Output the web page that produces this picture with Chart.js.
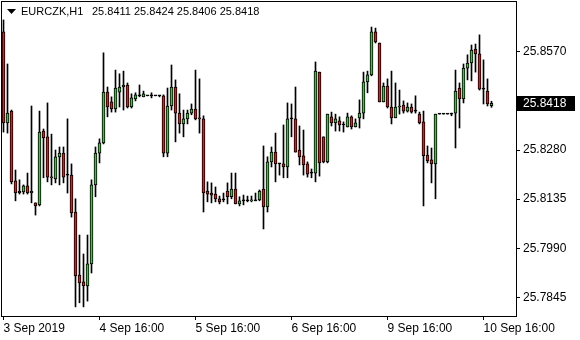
<!DOCTYPE html>
<html>
<head>
<meta charset="utf-8">
<script src="https://cdn.jsdelivr.net/npm/chart.js@4"></script>
<style>
html,body{margin:0;padding:0;background:#fff}
#grafico{display:block}
</style>
</head>
<body>
<canvas id="grafico" width="580" height="340"></canvas>
<script>
// EURCZK H1 candles
let symbol = "EURCZK,H1"
let lastPrice = 25.8418

let opens = [25.8629,25.8360,25.8395,25.8189,25.8159,25.8156,25.8174,25.8153,25.8124,25.8118,
25.8336,25.8319,25.8200,25.8195,25.8260,25.8271,25.8206,25.8206,25.8097,25.7911,
25.7891,25.7879,25.7944,25.8177,25.8271,25.8301,25.8451,25.8422,25.8401,25.8451,
25.8466,25.8472,25.8407,25.8431,25.8440,25.8437,25.8440,25.8440,25.8440,25.8440,
25.8440,25.8271,25.8410,25.8466,25.8389,25.8357,25.8372,25.8389,25.8401,25.8375,
25.8372,25.8159,25.8153,25.8150,25.8136,25.8133,25.8159,25.8142,25.8165,25.8121,
25.8130,25.8130,25.8130,25.8130,25.8133,25.8165,25.8112,25.8245,25.8274,25.8239,
25.8239,25.8230,25.8372,25.8372,25.8280,25.8263,25.8239,25.8212,25.8212,25.8510,
25.8319,25.8245,25.8378,25.8360,25.8366,25.8354,25.8348,25.8378,25.8348,25.8375,
25.8389,25.8481,25.8502,25.8629,25.8596,25.8422,25.8469,25.8407,25.8375,25.8407,
25.8413,25.8395,25.8407,25.8395,25.8386,25.8363,25.8265,25.8251,25.8239,25.8386,
25.8386,25.8386,25.8386,25.8389,25.8463,25.8431,25.8522,25.8537,25.8578,25.8564,
25.8460,25.8454,25.8411]

let highs = [25.8664,25.8534,25.8398,25.8221,25.8192,25.8177,25.8212,25.8410,25.8124,25.8395,
25.8342,25.8419,25.8327,25.8280,25.8289,25.8289,25.8372,25.8239,25.8136,25.8029,
25.7973,25.8029,25.8192,25.8289,25.8313,25.8567,25.8466,25.8437,25.8516,25.8505,
25.8513,25.8478,25.8446,25.8449,25.8472,25.8454,25.8440,25.8449,25.8440,25.8440,
25.8443,25.8463,25.8531,25.8487,25.8446,25.8398,25.8398,25.8416,25.8516,25.8490,
25.8381,25.8186,25.8183,25.8171,25.8144,25.8153,25.8183,25.8212,25.8212,25.8142,
25.8147,25.8144,25.8144,25.8153,25.8162,25.8292,25.8260,25.8289,25.8330,25.8239,
25.8354,25.8419,25.8416,25.8466,25.8351,25.8339,25.8245,25.8224,25.8540,25.8510,
25.8319,25.8386,25.8392,25.8386,25.8378,25.8363,25.8389,25.8381,25.8372,25.8428,
25.8510,25.8513,25.8643,25.8640,25.8596,25.8478,25.8490,25.8513,25.8478,25.8457,
25.8425,25.8419,25.8416,25.8440,25.8392,25.8395,25.8292,25.8286,25.8386,25.8386,
25.8386,25.8386,25.8389,25.8516,25.8478,25.8534,25.8561,25.8590,25.8593,25.8620,
25.8546,25.8490,25.8424]

let lows = [25.8333,25.8330,25.8180,25.8130,25.8150,25.8150,25.8150,25.8124,25.8088,25.8115,
25.8198,25.8186,25.8177,25.8183,25.8177,25.8183,25.8153,25.8082,25.7817,25.7829,
25.7817,25.7834,25.7917,25.8142,25.8242,25.8298,25.8378,25.8392,25.8392,25.8407,
25.8398,25.8404,25.8404,25.8425,25.8437,25.8437,25.8440,25.8434,25.8440,25.8437,
25.8260,25.8260,25.8398,25.8304,25.8330,25.8319,25.8357,25.8384,25.8369,25.8330,
25.8097,25.8127,25.8124,25.8127,25.8121,25.8127,25.8121,25.8136,25.8121,25.8115,
25.8118,25.8127,25.8127,25.8130,25.8130,25.8047,25.8097,25.8230,25.8186,25.8206,
25.8198,25.8198,25.8319,25.8274,25.8236,25.8206,25.8200,25.8198,25.8186,25.8203,
25.8242,25.8242,25.8351,25.8336,25.8336,25.8333,25.8348,25.8342,25.8348,25.8345,
25.8372,25.8449,25.8499,25.8596,25.8422,25.8422,25.8404,25.8357,25.8375,25.8386,
25.8389,25.8392,25.8389,25.8389,25.8357,25.8115,25.8242,25.8183,25.8136,25.8386,
25.8386,25.8386,25.8381,25.8286,25.8345,25.8419,25.8487,25.8484,25.8510,25.8457,
25.8416,25.8410,25.8406]

let closes = [25.8360,25.8389,25.8186,25.8153,25.8153,25.8174,25.8153,25.8159,25.8115,25.8333,
25.8316,25.8200,25.8198,25.8260,25.8271,25.8200,25.8206,25.8094,25.7908,25.7888,
25.7879,25.7944,25.8177,25.8271,25.8301,25.8451,25.8407,25.8401,25.8463,25.8466,
25.8472,25.8407,25.8434,25.8443,25.8440,25.8446,25.8440,25.8440,25.8440,25.8440,
25.8271,25.8410,25.8466,25.8389,25.8357,25.8372,25.8389,25.8401,25.8372,25.8372,
25.8153,25.8150,25.8147,25.8136,25.8127,25.8133,25.8142,25.8165,25.8121,25.8130,
25.8130,25.8130,25.8133,25.8130,25.8159,25.8112,25.8245,25.8274,25.8239,25.8239,
25.8230,25.8372,25.8372,25.8274,25.8260,25.8236,25.8209,25.8212,25.8513,25.8242,
25.8245,25.8386,25.8360,25.8372,25.8354,25.8354,25.8378,25.8348,25.8360,25.8389,
25.8481,25.8502,25.8629,25.8599,25.8422,25.8469,25.8407,25.8375,25.8407,25.8410,
25.8395,25.8407,25.8392,25.8395,25.8360,25.8263,25.8248,25.8239,25.8386,25.8386,
25.8386,25.8386,25.8386,25.8454,25.8431,25.8522,25.8537,25.8575,25.8564,25.8460,
25.8460,25.8416,25.8418]

let priceTicks = [25.7845,25.7990,25.8135,25.8280,25.8570]
let timeTicks = [0,24,48,72,96,120]
let timeLabels = ["3 Sep 2019","4 Sep 16:00","5 Sep 16:00","6 Sep 16:00","9 Sep 16:00","10 Sep 16:00"]

let corpos=[]
let pavios=[]
let cores=[]

opens.forEach((o,i)=>{
corpos.push({x:i,y:[o,closes[i]]})
pavios.push({x:i,y:[lows[i],highs[i]]})
if(closes[i]>o)cores.push("#3fc43f")
else if(closes[i]<o)cores.push("#e01c1c")
else cores.push("#000")
})

let fonte = "'Liberation Sans', Arial, sans-serif"

let moldura = {
id:"moldura",
afterDraw(chart){
let c=chart.ctx
let a=chart.chartArea
c.save()
c.strokeStyle="#000"
c.lineWidth=1
c.strokeRect(a.left-0.5,a.top-0.5,a.right-a.left+1,a.bottom-a.top+1)

// titulo
c.fillStyle="#000"
c.beginPath()
c.moveTo(7,9)
c.lineTo(16,9)
c.lineTo(11.5,14)
c.closePath()
c.fill()
c.font="11px "+fonte
c.textBaseline="middle"
c.fillText(symbol,21,12)
c.fillText(opens[opens.length-1].toFixed(4)+" "+highs[highs.length-1].toFixed(4)+" "+lows[lows.length-1].toFixed(4)+" "+closes[closes.length-1].toFixed(4),92,12)

// preco atual
let y=Math.round(chart.scales.y.getPixelForValue(lastPrice))
c.fillStyle="#000"
c.fillRect(a.right+1,y-7,58,15)
c.fillStyle="#fff"
c.font="12px "+fonte
c.fillText(lastPrice.toFixed(4),a.right+7,y+0.5)
c.restore()
}
}

new Chart(document.getElementById("grafico"),{
type:"bar",
data:{
datasets:[
{data:corpos,backgroundColor:cores,borderColor:"#000",borderWidth:1,borderSkipped:false,barThickness:3,minBarLength:1,grouped:false,order:0},
{data:pavios,backgroundColor:"#000",borderWidth:0,barThickness:1,grouped:false,order:1}
]
},
options:{
responsive:false,
animation:false,
devicePixelRatio:1,
layout:{padding:{left:2,top:2,right:0,bottom:0}},
plugins:{legend:{display:false},tooltip:{enabled:false}},
scales:{
x:{
type:"linear",
offset:false,
min:-0.375,
max:128.125,
afterBuildTicks(s){s.ticks=timeTicks.map(v=>({value:v}))},
afterFit(s){s.height=24;s.paddingLeft=0;s.paddingRight=0},
ticks:{
autoSkip:false,
maxRotation:0,
align:"start",
padding:1,
color:"#000",
font:{family:fonte,size:12},
callback:(v)=>timeLabels[timeTicks.indexOf(v)]
},
grid:{drawOnChartArea:false,drawTicks:true,tickLength:4,color:"#000",offset:false},
border:{display:true,color:"#000"}
},
y:{
position:"right",
min:25.7790,
max:25.8717,
afterBuildTicks(s){s.ticks=priceTicks.map(v=>({value:v}))},
afterFit(s){s.width=64;s.paddingTop=0;s.paddingBottom=0},
ticks:{
padding:3,
color:"#000",
font:{family:fonte,size:12},
callback:(v)=>v.toFixed(4)
},
grid:{drawOnChartArea:false,drawTicks:true,tickLength:4,color:"#000"},
border:{display:true,color:"#000"}
}
}
},
plugins:[moldura]
})
</script>
</body>
</html>
